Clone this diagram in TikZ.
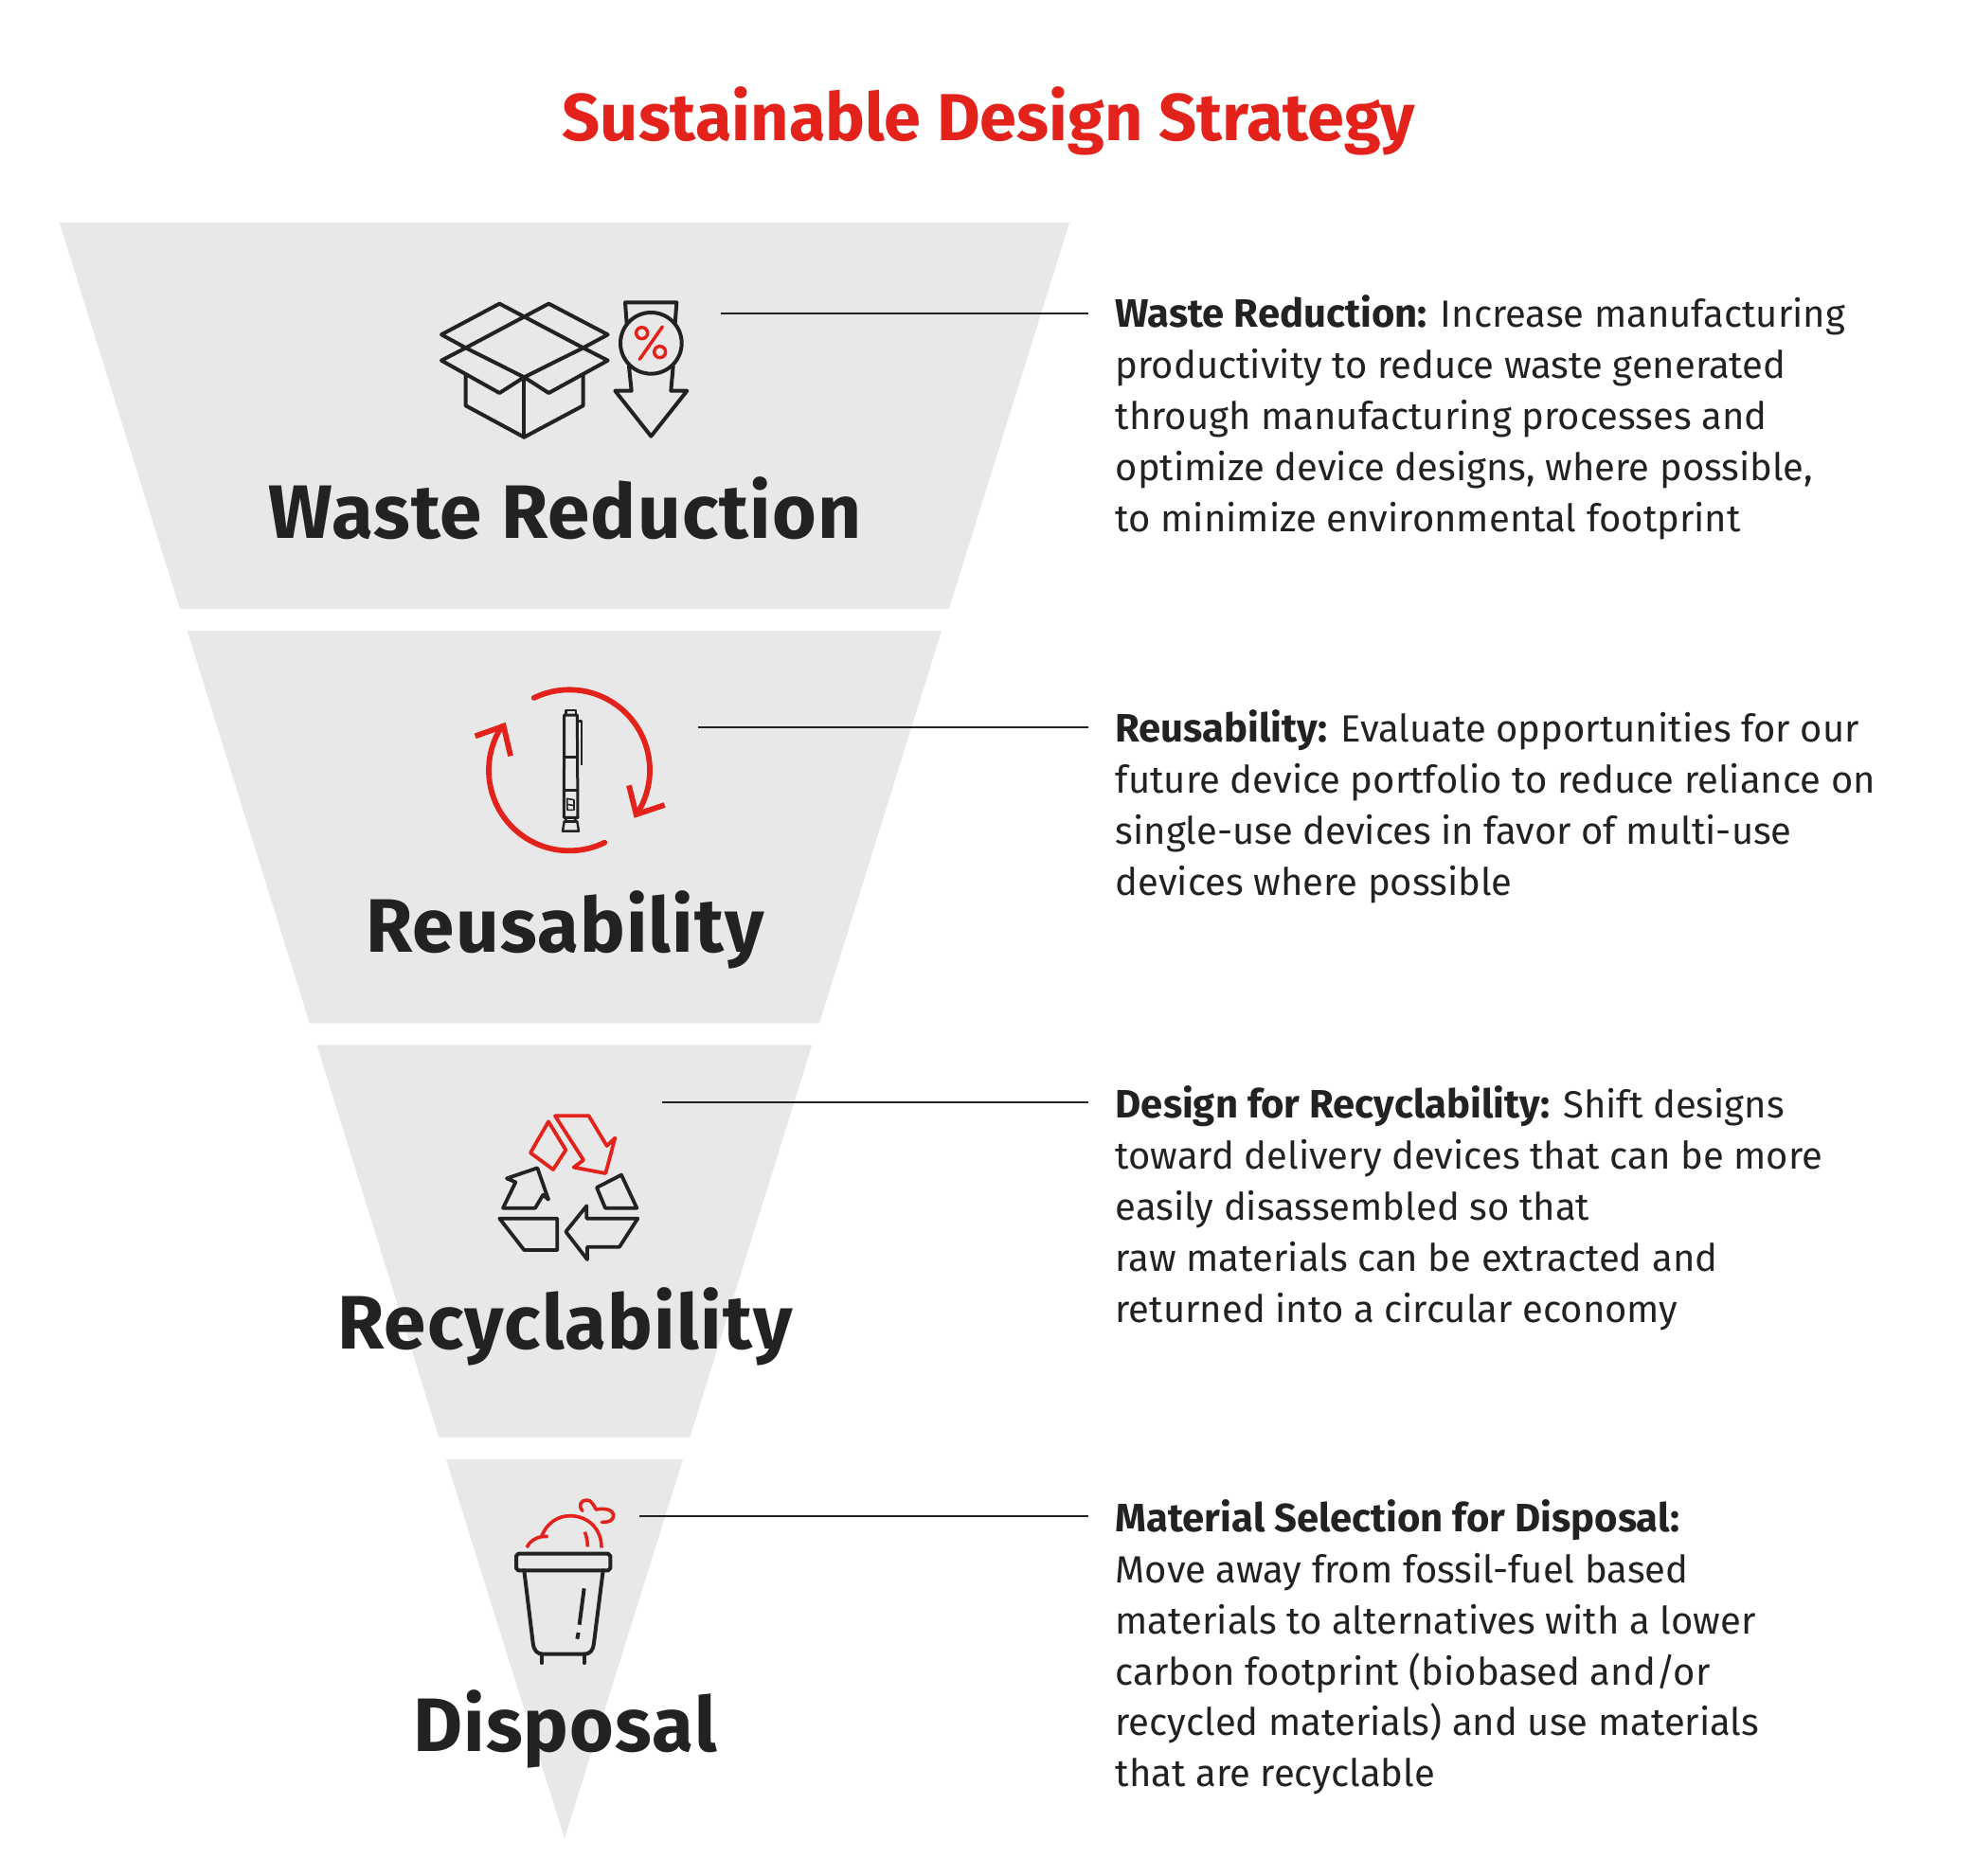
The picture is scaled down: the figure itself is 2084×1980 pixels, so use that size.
\documentclass[tikz,border=0pt]{standalone}
\usepackage{fontspec}
\setmainfont{Fira Sans}
\newfontfamily\headfont[LetterSpace=1.5]{Fira Sans}
\newfontfamily\leadfont[Scale=1.045]{Fira Sans}
\definecolor{redc}{HTML}{E3231B}
\definecolor{darkc}{HTML}{222222}
\definecolor{greyc}{HTML}{E8E8E8}
\newcommand{\firstl}{\rule{0pt}{32pt}}
\newcommand{\leadin}[1]{{\leadfont\bfseries #1}}
\tikzset{
 tier/.style={fill=greyc,draw=none},
 heading/.style={anchor=base,inner sep=0,text=darkc,font=\headfont\fontsize{80}{90}\selectfont\bfseries},
 bodytext/.style={anchor=north west,inner sep=0,align=left,text=darkc,font=\fontsize{40}{53.8}\selectfont},
 leader/.style={draw=darkc,line width=2pt},
 ink/.style={draw=darkc,line width=4pt,line join=round,line cap=round},
 inkred/.style={draw=redc,line width=4pt,line join=round,line cap=round},
 thin ink/.style={draw=darkc,line width=2.4pt,line join=round},
}
\begin{document}
\begin{tikzpicture}[x=1pt,y=-1pt]
\useasboundingbox (0,0) rectangle (2084,1980);
\fill[white] (0,0) rectangle (2084,1980);
\fill[tier] (62.7,235) -- (1129,235) -- (1001.8,643) -- (190,643) -- cycle;
\fill[tier] (197.7,666) -- (994,666) -- (865,1080.3) -- (326.8,1080.3) -- cycle;
\fill[tier] (334.5,1103.3) -- (857.3,1103.3) -- (728.3,1517.7) -- (463.3,1517.7) -- cycle;
\fill[tier] (471,1541) -- (721,1541) -- (596,1941) -- cycle;
\node[anchor=base,inner sep=0,text=redc,font=\fontsize{70.2}{80}\selectfont\bfseries] (title) at (1044,148.8) {Sustainable Design Strategy};
\node[heading] (h1) at (596.5,568.3) {Waste Reduction};
\node[heading] (h2) at (596.5,1005) {Reusability};
\node[heading] (h3) at (596.5,1424.5) {Recyclability};
\node[heading] (h4) at (596.5,1849) {Disposal};
\node[bodytext] (b1) at (1177.5,311.7) {\firstl\leadin{Waste Reduction:} Increase manufacturing\\productivity to reduce waste generated\\through manufacturing processes and\\optimize device designs, where possible,\\to minimize environmental footprint};
\node[bodytext] (b2) at (1177.5,749.7) {\firstl\leadin{Reusability:} Evaluate opportunities for our\\future device portfolio to reduce reliance on\\single-use devices in favor of multi-use\\devices where possible};
\node[bodytext] (b3) at (1177.5,1146.7) {\firstl\leadin{Design for Recyclability:} Shift designs\\toward delivery devices that can be more\\easily disassembled so that\\raw materials can be extracted and\\returned into a circular economy};
\node[bodytext] (b4) at (1177.5,1583.5) {\firstl\leadin{Material Selection for Disposal:}\\Move away from fossil-fuel based\\materials to alternatives with a lower\\carbon footprint (biobased and/or\\recycled materials) and use materials\\that are recyclable};
\coordinate (l1a) at (761.3,331); \coordinate (l1b) at (1149.3,331);
\coordinate (l2a) at (737.4,768); \coordinate (l2b) at (1149.3,768);
\coordinate (l3a) at (699,1164); \coordinate (l3b) at (1149.3,1164);
\coordinate (l4a) at (675,1601); \coordinate (l4b) at (1149.3,1601);
\draw[leader] (l1a) -- (l1b);
\draw[leader] (l2a) -- (l2b);
\draw[leader] (l3a) -- (l3b);
\draw[leader] (l4a) -- (l4b);
% box and arrow icon
\begin{scope}[shift={(440,290)},x=0.33333pt,y=-0.33333pt]
\draw[ink] (155,232) -- (78,190) -- (262,92) -- (527,232) -- (340,325) -- (155,232) -- (418,92) -- (605,190) -- (527,232) -- (605,272) -- (418,375) -- (340,325) -- (262,375) -- (78,272) -- cycle;
\draw[ink] (155,318) -- (155,415) -- (340,515) -- (527,415) -- (527,318);
\draw[ink] (340,325) -- (340,515);
\draw[ink] (665,155) -- (660,88) -- (823,88) -- (818,155);
\draw[ink] (742,217) circle[radius=97];
\draw[ink] (672,290) -- (680,368) -- (628,368) -- (742,512) -- (856,368) -- (805,368) -- (812,290);
\draw[inkred,line width=3.5pt] (706,268) -- (778,165);
\draw[inkred,line width=3.5pt] (713,185) circle[radius=18];
\draw[inkred,line width=3.5pt] (770,245) circle[radius=18];
\end{scope}
% pen icon
\begin{scope}[shift={(480,710)},x=0.33333pt,y=-0.33333pt]
\draw[inkred,line width=5.8pt,line join=miter] plot[domain=116:-33,samples=70] ({363+255*cos(\x)},{310-255*sin(\x)});
\draw[inkred,line width=5.8pt,line join=miter,line cap=butt] (552,358) -- (575,450) -- (665,420);
\draw[inkred,line width=5.8pt] plot[domain=-64:-213,samples=70] ({363+255*cos(\x)},{310-255*sin(\x)});
\draw[inkred,line width=5.8pt,line join=miter,line cap=butt] (65,202) -- (155,170) -- (177,265);
\draw[thin ink,line width=3pt] (347,135) -- (388,135) -- (390,460) -- (346,460) -- cycle;
\draw[thin ink,line width=3pt] (346,268) -- (388,268);
\draw[thin ink,line width=3pt] (346,372) -- (390,372);
\draw[thin ink] (352,132) -- (352,120) -- (384,120) -- (384,132);
\draw[thin ink] (390,155) -- (402,155) -- (402,295);
\draw[thin ink,line width=1.6pt] (356,400) -- (378,404) -- (378,436) -- (357,436) -- cycle;
\draw[thin ink,line width=1.6pt] (356,418) -- (378,422);
\draw[thin ink] (352,462) -- (352,472) -- (347,472) -- (342,503) -- (393,503) -- (388,472) -- (382,472) -- (382,462);
\draw[thin ink] (347,472) -- (388,472);
\end{scope}
% recycling icon
\begin{scope}[shift={(510,1160)},x=0.33333pt,y=-0.33333pt]
\draw[inkred,line width=3.8pt] (207,73) -- (262,163) -- (222,225) -- (150,172) -- cycle;
\draw[inkred,line width=3.8pt] (228,55) -- (335,55) -- (392,150) -- (418,125) -- (388,237) -- (287,218) -- (318,195) -- cycle;
\draw[ink,line width=3.8pt] (207,320) -- (172,220) -- (75,253) -- (103,265) -- (63,347) -- (165,347) -- (190,305) -- cycle;
\draw[ink,line width=3.8pt] (438,242) -- (487,347) -- (387,347) -- (360,282) -- cycle;
\draw[ink,line width=3.8pt] (52,380) -- (235,380) -- (235,480) -- (130,480) -- cycle;
\draw[ink,line width=3.8pt] (262,422) -- (328,340) -- (328,380) -- (490,380) -- (432,470) -- (330,470) -- (330,510) -- cycle;
\end{scope}
% bin icon
\begin{scope}[shift={(520,1570)},x=0.33333pt,y=-0.33333pt]
\draw[ink] (82,212) -- (366,212) -- (373,219) -- (373,258) -- (366,265) -- (82,265) -- (75,258) -- (75,219) -- cycle;
\draw[ink] (100,265) -- (128,495) .. controls (131,520) and (142,530) .. (160,530) -- (290,530) .. controls (308,530) and (318,520) .. (321,495) -- (350,265);
\draw[ink] (157,530) -- (157,558);
\draw[ink] (290,530) -- (290,558);
\draw[ink,line cap=butt] (290,322) -- (275,437);
\draw[ink,line cap=butt] (272,462) -- (268,482);
\draw[inkred,line width=3.6pt,line cap=butt] (108,192) .. controls (118,172) and (135,162) .. (155,158) .. controls (172,112) and (210,92) .. (245,92) .. controls (300,92) and (345,130) .. (345,193);
\draw[inkred,line width=3.6pt,line cap=butt] (155,158) -- (176,157);
\draw[inkred,line width=3.6pt,line cap=butt] (292,143) .. controls (298,158) and (301,172) .. (301,190);
\draw[inkred,line width=3.6pt] (285,76) .. controls (270,60) and (280,42) .. (298,42) .. controls (315,42) and (320,60) .. (328,72) .. controls (345,68) and (383,68) .. (383,92) .. controls (383,108) and (365,113) .. (346,112);
\end{scope}
\end{tikzpicture}
\end{document}
